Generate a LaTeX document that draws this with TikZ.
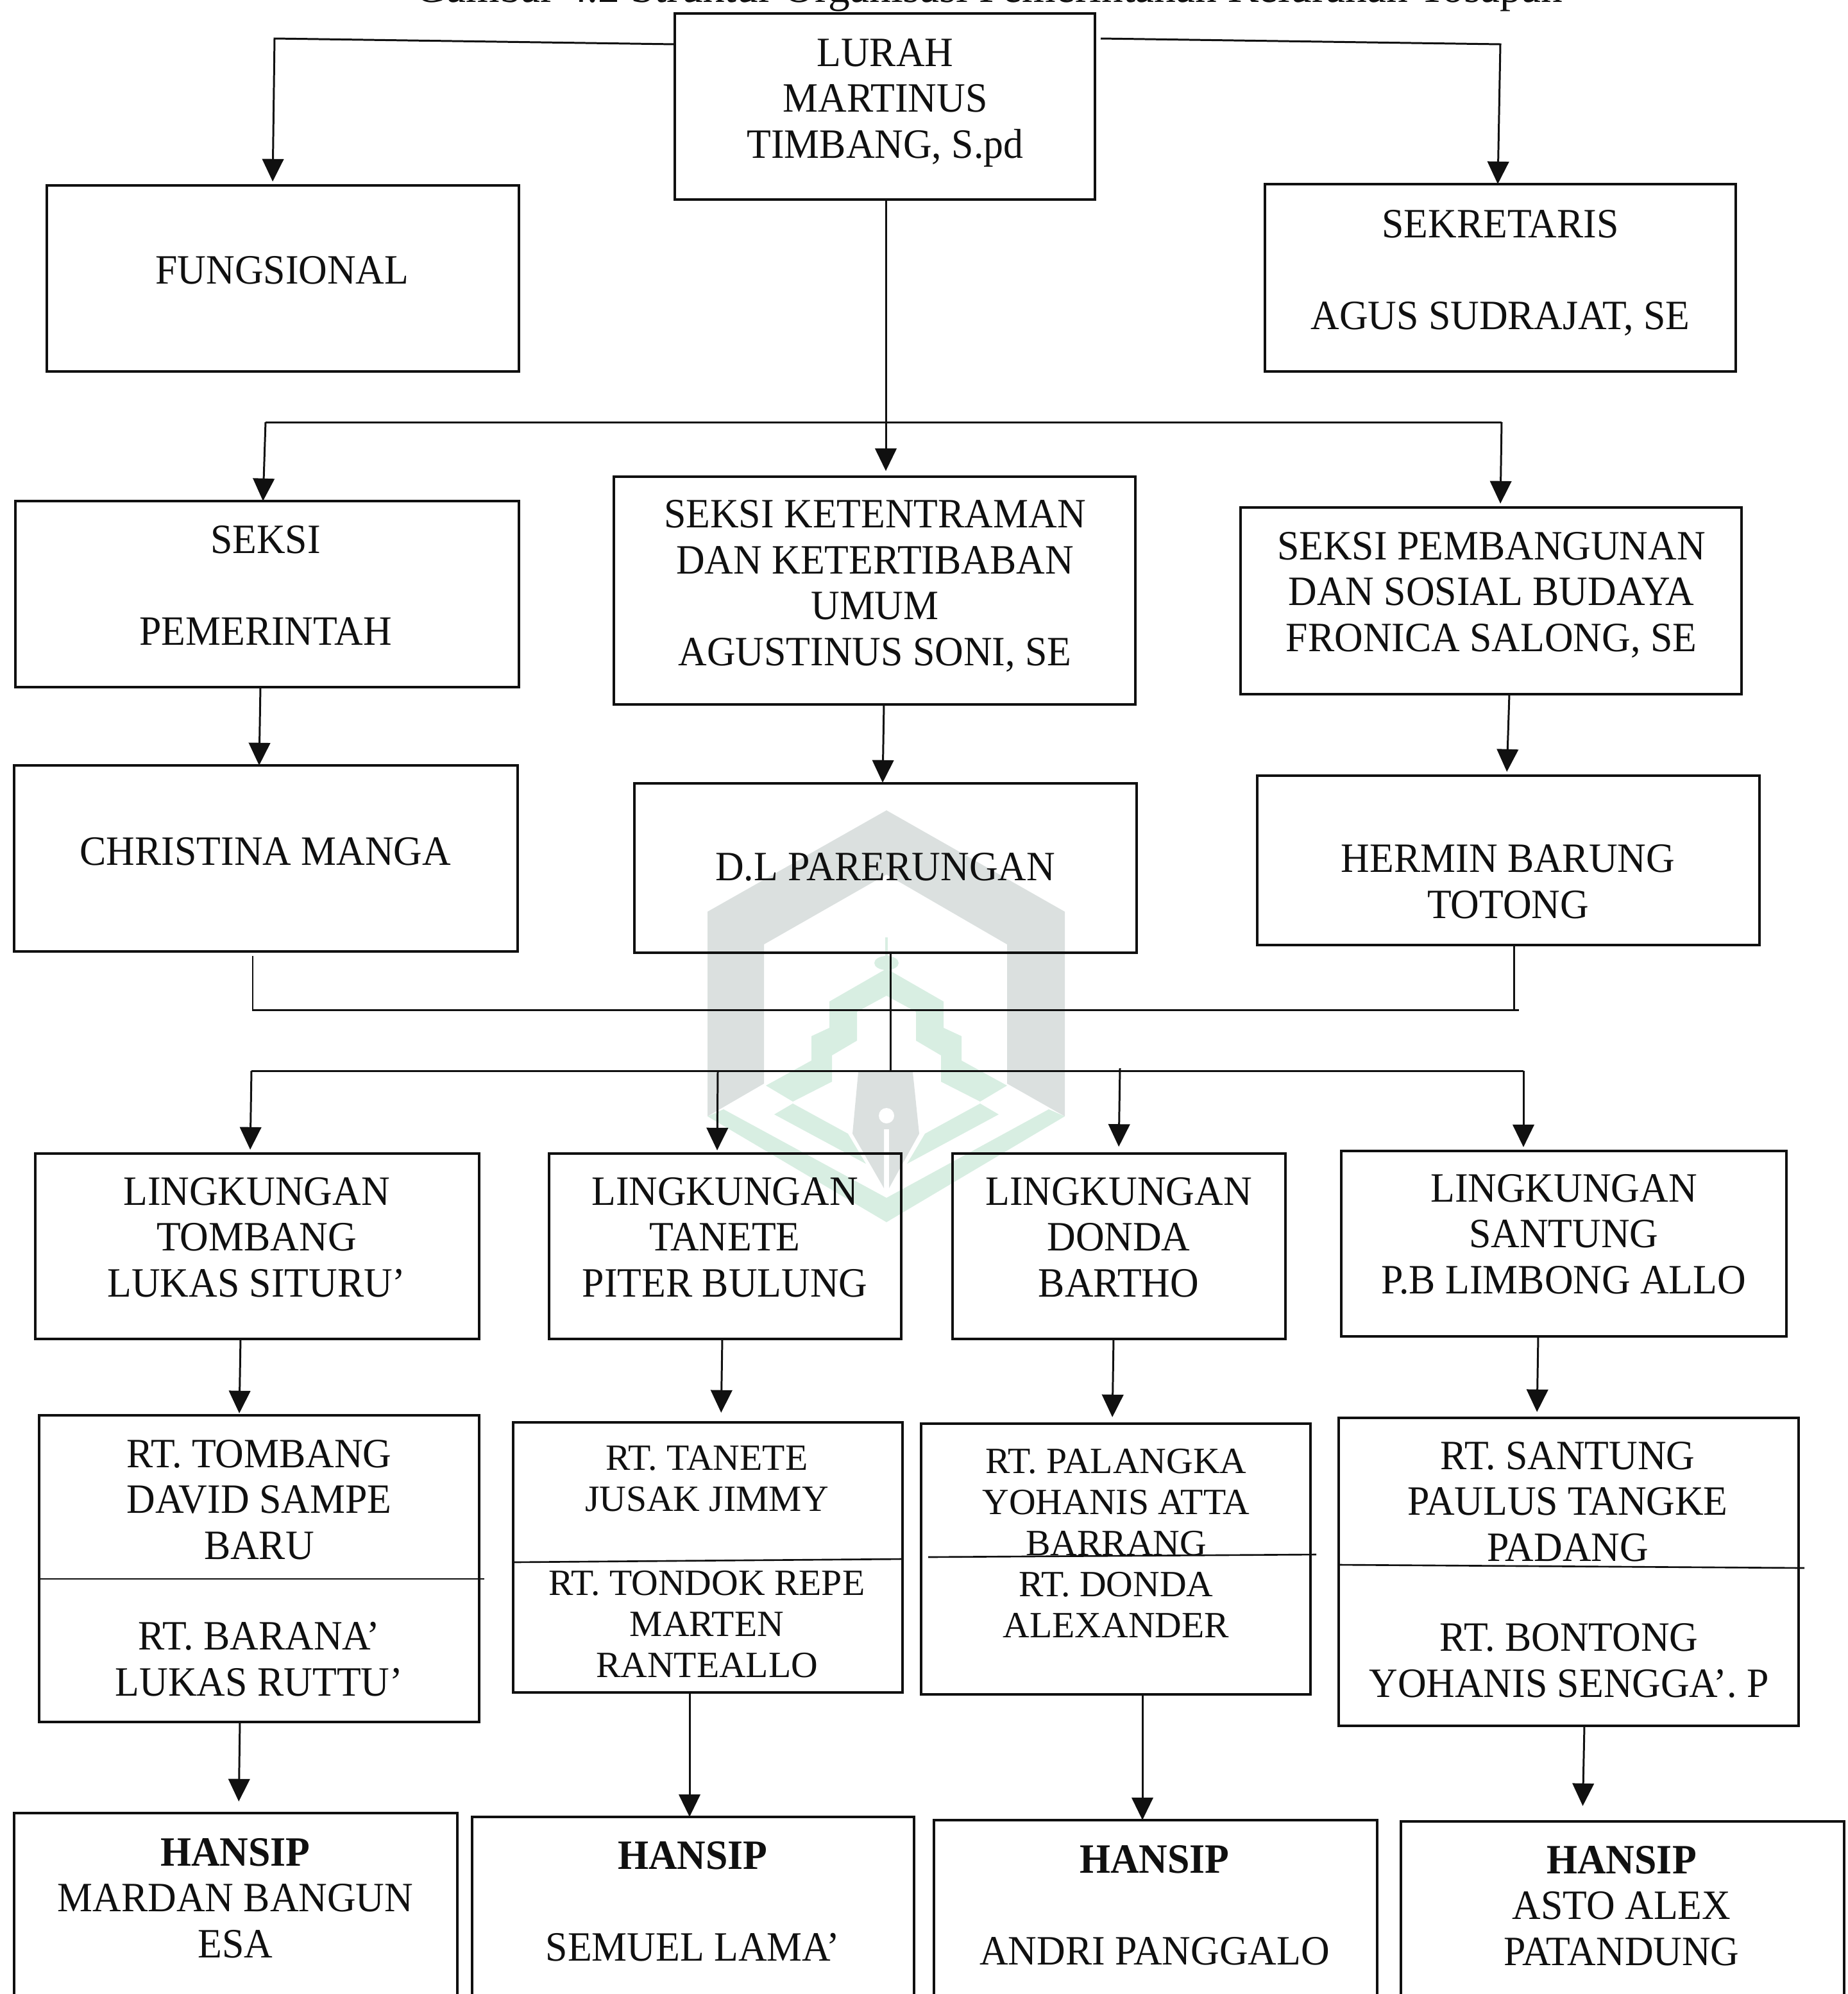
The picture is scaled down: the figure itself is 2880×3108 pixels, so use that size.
\documentclass[tikz,border=0pt]{standalone}
\usepackage{fontspec}
\setmainfont{Liberation Serif}[FakeStretch=0.95]
\newfontfamily\plainserif{Liberation Serif}
\usetikzlibrary{arrows.meta}
\definecolor{wmgray}{HTML}{DBE0DF}
\definecolor{wmgreen}{HTML}{D8EEE2}
\definecolor{ink}{HTML}{101010}
\tikzset{
  orgbox/.style={draw=ink,line width=1.1pt,inner sep=0pt,outer sep=0pt},
  txt/.style={anchor=base,align=center,text=ink,inner sep=0pt,font=\fontsize{18.5}{20.3}\selectfont},
  small/.style={font=\plainserif\fontsize{16.4}{18.2}\selectfont},
  captxt/.style={font=\plainserif\fontsize{19.2}{20.3}\selectfont},
  link/.style={draw=ink,line width=0.85pt},
  arr/.style={link,-{Triangle[length=10pt,width=9.5pt]}},
  divider/.style={draw=ink,line width=0.75pt}
}
% name, x0, y0, x1, y1 in reference pixels
\newcommand{\orgb}[5]{\node[orgbox,minimum width={(#4-#2)*0.28453pt},minimum height={(#5-#3)*0.28453pt}] (#1) at ({(#2+#4)/2},{(#3+#5)/2}) {};}
% from box A (south, at x) to box B (north, at x), stopping gap px short
\newcommand{\downarr}[5]{\draw[arr,shorten >={#5*0.28453pt}] (#1.south -| #2,0) -- (#3.north -| #4,0);}
\begin{document}
\begin{tikzpicture}[x=0.01cm,y=-0.01cm]
\useasboundingbox (0,0) rectangle (2880,3108);
\clip (0,0) rectangle (2880,3108);
% watermark
\fill[wmgray] (1382,1263) -- (1660,1421) -- (1660,1740) -- (1570,1689) -- (1570,1472) -- (1382,1363) -- (1191,1472) -- (1191,1689) -- (1103,1740) -- (1103,1421) -- cycle;
\fill[wmgreen] (1103,1740) -- (1382,1905) -- (1660,1740) -- (1635,1729) -- (1382,1867) -- (1128,1729) -- cycle;
\fill[wmgreen] (1207,1737) -- (1236,1720) -- (1322,1767) -- (1350,1814) -- cycle;
\fill[wmgreen] (1557,1737) -- (1528,1720) -- (1442,1767) -- (1414,1814) -- cycle;
\fill[wmgreen] (1194,1692) -- (1265,1653) -- (1265,1615) -- (1293,1602) -- (1293,1561) -- (1373,1515) -- (1382,1510) -- (1391,1515) -- (1471,1561) -- (1471,1602) -- (1499,1615) -- (1499,1653) -- (1570,1692) -- (1528,1717) -- (1467,1686) -- (1467,1645) -- (1428,1622) -- (1428,1577) -- (1382,1552) -- (1336,1577) -- (1336,1622) -- (1297,1645) -- (1297,1686) -- (1236,1717) -- cycle;
\fill[wmgreen] (1382,1501) ellipse (19 and 11);
\fill[wmgreen] (1380,1461) -- (1384,1461) -- (1384,1495) -- (1380,1495) -- cycle;
\fill[wmgray] (1338,1671) -- (1423,1671) -- (1433,1767) -- (1386,1852) -- (1386,1760) -- (1378,1760) -- (1378,1852) -- (1329,1767) -- cycle;
\fill[white] (1382,1739) circle (12);
% caption
\node[txt,captxt] (cap) at (1542,3) {Gambar 4.2 Struktur Organisasi Pemerintahan Kelurahan Tosapan};
% boxes
\orgb{lurah}{1052}{21}{1707}{311}
\orgb{fung}{73}{289}{809}{579}
\orgb{sekr}{1972}{287}{2706}{579}
\orgb{spem}{24}{781}{809}{1071}
\orgb{sket}{957}{743}{1770}{1098}
\orgb{spbg}{1934}{791}{2715}{1082}
\orgb{chr}{22}{1193}{807}{1483}
\orgb{dl}{989}{1221}{1772}{1485}
\orgb{her}{1960}{1209}{2743}{1473}
\orgb{lka}{55}{1798}{747}{2087}
\orgb{lkb}{856}{1798}{1405}{2087}
\orgb{lkc}{1485}{1798}{2004}{2087}
\orgb{lkd}{2091}{1794}{2785}{2083}
\orgb{rta}{61}{2206}{747}{2684}
\orgb{rtb}{800}{2217}{1407}{2638}
\orgb{rtc}{1436}{2219}{2043}{2641}
\orgb{rtd}{2087}{2210}{2804}{2690}
\orgb{ha}{22}{2826}{713}{3200}
\orgb{hb}{736}{2832}{1425}{3200}
\orgb{hc}{1456}{2837}{2147}{3200}
\orgb{hd}{2184}{2839}{2875}{3200}
% dividers
\coordinate (da1) at (61,2461); \coordinate (da2) at (755,2461);
\coordinate (db1) at (800,2435); \coordinate (db2) at (1407,2430);
\coordinate (dc1) at (1447,2427); \coordinate (dc2) at (2052,2423);
\coordinate (dd1) at (2087,2439); \coordinate (dd2) at (2813,2444);
\draw[divider] (da1) -- (da2);
\draw[divider] (db1) -- (db2);
\draw[divider] (dc1) -- (dc2);
\draw[divider] (dd1) -- (dd2);
% top connectors
\coordinate (tl0) at (1052,69); \coordinate (tl1) at (428,60);
\coordinate (tr0) at (1716,60); \coordinate (tr1) at (2339,69);
\draw[arr,shorten >=1.7pt] (tl0) -- (tl1) -- (fung.north -| 425,0);
\draw[arr] (tr0) -- (tr1) -- (sekr.north -| 2335,0);
\draw[arr,shorten >=2.5pt] (lurah.south -| 1381,0) -- (sket.north -| 1381,0);
% seksi row
\coordinate (sl) at (414,658); \coordinate (sr) at (2341,658);
\draw[link] (sl) -- (sr);
\draw[arr] (sl) -- (spem.north -| 410,0);
\draw[arr,shorten >=1.7pt] (sr) -- (spbg.north -| 2339,0);
% staff row
\downarr{spem}{406}{chr}{404}{0}
\downarr{sket}{1378}{dl}{1376}{1}
\downarr{spbg}{2353}{her}{2349}{6}
% join bracket
\coordinate (bl0) at (394,1490); \coordinate (bl1) at (394,1574); \coordinate (br1) at (2368,1574);
\coordinate (brj) at (2360,1574); \coordinate (dlj) at (1388,1485);
\coordinate (cj) at (1388,1669); \coordinate (hl) at (392,1669); \coordinate (hr) at (2375,1669);
\draw[link] (bl0) -- (bl1) -- (br1);
\draw[link] (her.south -| 2360,0) -- (brj);
\draw[link] (dlj) -- (cj);
\draw[link] (hl) -- (hr);
% lingkungan arrows
\coordinate (l2) at (1119,1671); \coordinate (l3) at (1746,1665);
\draw[arr,shorten >=1.7pt] (hl) -- (lka.north -| 390,0);
\draw[arr,shorten >=1.4pt] (l2) -- (lkb.north -| 1118,0);
\draw[arr,shorten >=3pt] (l3) -- (lkc.north -| 1744,0);
\draw[arr,shorten >=1.7pt] (hr) -- (lkd.north -| 2375,0);
% rt arrows
\downarr{lka}{375}{rta}{373}{3}
\downarr{lkb}{1126}{rtb}{1124}{15}
\downarr{lkc}{1736}{rtc}{1734}{10}
\downarr{lkd}{2398}{rtd}{2396}{9}
% hansip arrows
\downarr{rta}{374}{ha}{372}{18}
\downarr{rtb}{1075}{hb}{1075}{0}
\downarr{rtc}{1781}{hc}{1781}{0}
\downarr{rtd}{2470}{hd}{2467}{24}
% texts
\node[txt] (t1) at (1380,246) {LURAH\\MARTINUS\\TIMBANG, S.pd};
\node[txt] (t2) at (440,442) {FUNGSIONAL};
\node[txt] (t3) at (2339,513) {SEKRETARIS\\[20.3pt]AGUS SUDRAJAT, SE};
\node[txt] (t4) at (414,1005) {SEKSI\\[20.3pt]PEMERINTAH};
\node[txt] (t5) at (1364,1037) {SEKSI KETENTRAMAN\\DAN KETERTIBABAN\\UMUM\\AGUSTINUS SONI, SE};
\node[txt] (t6) at (2325,1015) {SEKSI PEMBANGUNAN\\DAN SOSIAL BUDAYA\\FRONICA SALONG, SE};
\node[txt] (t7) at (414,1348) {CHRISTINA MANGA};
\node[txt] (t8) at (1380,1372) {D.L PARERUNGAN};
\node[txt] (t9) at (2351,1431) {HERMIN BARUNG\\TOTONG};
\node[txt] (t10) at (400,2021) {LINGKUNGAN\\TOMBANG\\LUKAS SITURU’};
\node[txt] (t11) at (1130,2021) {LINGKUNGAN\\TANETE\\PITER BULUNG};
\node[txt] (t12) at (1744,2021) {LINGKUNGAN\\DONDA\\BARTHO};
\node[txt] (t13) at (2438,2016) {LINGKUNGAN\\SANTUNG\\P.B LIMBONG ALLO};
\node[txt] (t14) at (404,2430) {RT. TOMBANG\\DAVID SAMPE\\BARU};
\node[txt] (t15) at (404,2643) {RT. BARANA’\\LUKAS RUTTU’};
\node[txt,small] (t16) at (1102,2355) {RT. TANETE\\JUSAK JIMMY};
\node[txt,small] (t17) at (1102,2614) {RT. TONDOK REPE\\MARTEN\\RANTEALLO};
\node[txt,small] (t18) at (1740,2424) {RT. PALANGKA\\YOHANIS ATTA\\BARRANG};
\node[txt,small] (t19) at (1740,2552) {RT. DONDA\\ALEXANDER};
\node[txt] (t20) at (2444,2433) {RT. SANTUNG\\PAULUS TANGKE\\PADANG};
\node[txt] (t21) at (2446,2645) {RT. BONTONG\\YOHANIS SENGGA’. P};
\node[txt] (t22) at (367,3051) {\textbf{HANSIP}\\MARDAN BANGUN\\ESA};
\node[txt] (t23) at (1080,3056) {\textbf{HANSIP}\\[20.3pt]SEMUEL LAMA’};
\node[txt] (t24) at (1800,3062) {\textbf{HANSIP}\\[20.3pt]ANDRI PANGGALO};
\node[txt] (t25) at (2528,3063) {\textbf{HANSIP}\\ASTO ALEX\\PATANDUNG};
\end{tikzpicture}
\end{document}
